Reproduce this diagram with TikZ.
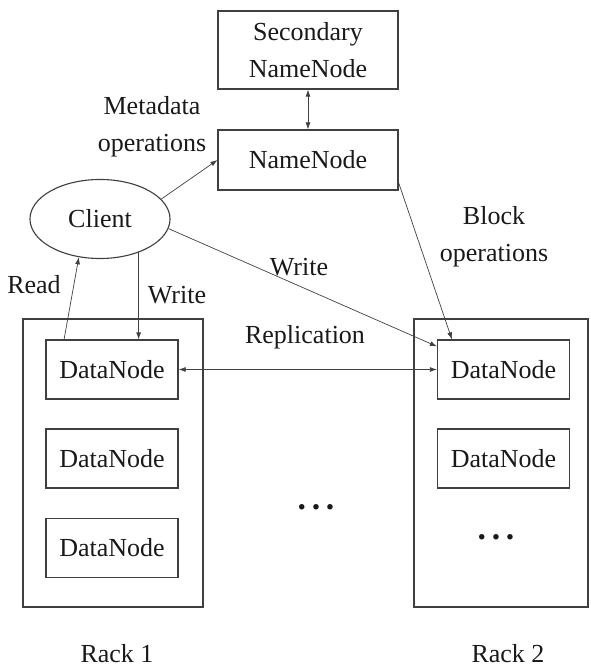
\documentclass[tikz,border=0pt]{standalone}
\usepackage{fontspec}
\setmainfont{Liberation Serif}
\usetikzlibrary{arrows.meta, calc, shapes.geometric}

\tikzset{
  box/.style={draw=black!75, line width=0.8pt, inner sep=0pt, text=black!90},
  dnbox/.style={box, minimum width=3.3cm, minimum height=1.475cm},
  rackbox/.style={box, minimum height=7.2cm},
  arr/.style={draw=black!75, line width=0.5pt, -{Latex[length=5pt,width=3.5pt]}},
  darr/.style={arr, {Latex[length=5pt,width=3.5pt]}-{Latex[length=5pt,width=3.5pt]}},
  lbl/.style={text=black!90, align=center, inner sep=0pt},
  dotlbl/.style={lbl, font=\fontsize{24}{26}\selectfont\bfseries},
}

\begin{document}
\begin{tikzpicture}[x=0.025cm, y=-0.025cm, font=\fontsize{18.5}{26}\selectfont]
    \useasboundingbox (0,0) rectangle (590,668);

    \node[box, minimum width=4.5cm, minimum height=1.95cm, align=center] (snn) at (308, 50) {Secondary\\NameNode};
    \node[box, minimum width=4.5cm, minimum height=1.5cm] (nn) at (308, 160) {NameNode};
    \node[box, ellipse, minimum width=3.5cm, minimum height=1.975cm] (client) at (100, 219) {Client};

    \node[rackbox, minimum width=4.5cm] (rack1) at (113, 463) {};
    \node[rackbox, minimum width=4.35cm] (rack2) at (501, 463) {};

    \foreach \i/\y in {1/369.5, 2/458.5, 3/548} {
        \node[dnbox] (dn1\i) at (112, \y) {DataNode};
    }
    \foreach \i/\y in {1/369.5, 2/458.5} {
        \node[dnbox] (dn2\i) at (503.5, \y) {DataNode};
    }

    \node[dotlbl] (dots1) at (316, 507) {.\,.\,.};
    \node[dotlbl] (dots2) at (496, 537) {.\,.\,.};

    \node[lbl] (rlab1) at (117, 654) {Rack 1};
    \node[lbl] (rlab2) at (508, 654) {Rack 2};

    \node[lbl] (meta) at (152, 127) {Metadata\\operations};
    \node[lbl] (block) at (494, 237) {Block\\operations};
    \node[lbl] (wlab2) at (299, 267) {Write};
    \node[lbl] (rdlab) at (34, 285) {Read};
    \node[lbl] (wlab1) at (177, 295) {Write};
    \node[lbl] (replab) at (305, 337) {Replication};

    \coordinate (w1) at ($(dn11.north west)!0.7!(dn11.north east)$);
    \coordinate (rd) at ($(dn11.north west)!0.14!(dn11.north east)$);
    \coordinate (w2) at ($(dn21.north west)+(0,7)$);
    \coordinate (bo) at ($(dn21.north west)+(15,0)$);
    \coordinate (nnout) at ($(nn.south east)+(0,-8)$);

    \draw[darr] (snn.south) -- (nn.north);
    \draw[arr] (client.18) -- (nn.west);
    \draw[arr] (client.-40 -| w1) -- (w1);
    \draw[arr] (rd) -- (client.-119);
    \draw[arr] (client.-8) -- (w2);
    \draw[arr] (nnout) -- (bo);
    \draw[darr] (dn11.east) -- (dn21.west);
\end{tikzpicture}
\end{document}
